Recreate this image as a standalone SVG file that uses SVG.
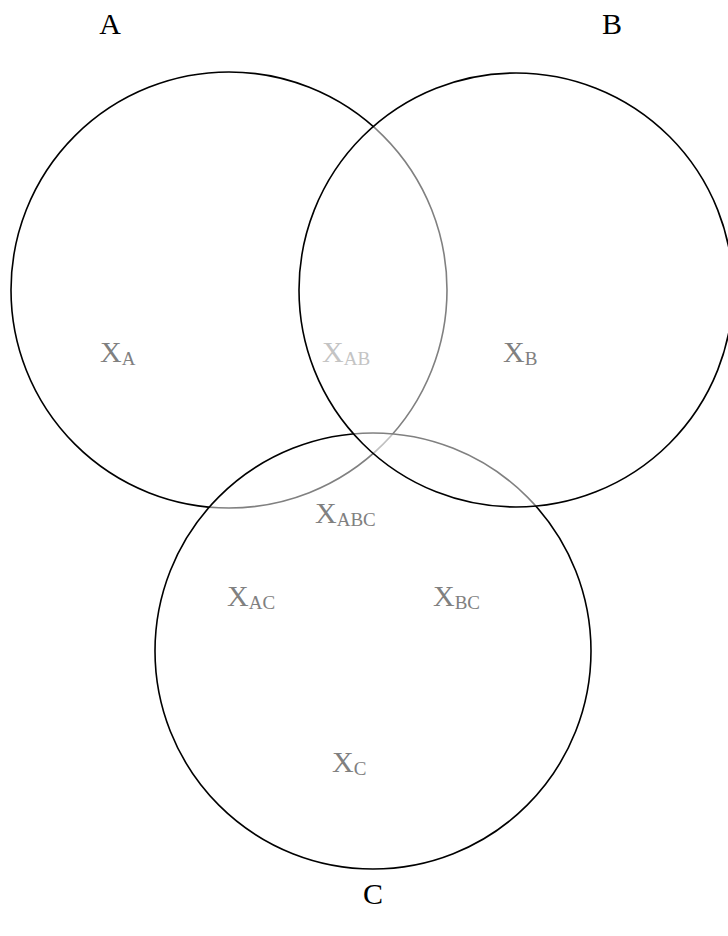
<svg xmlns="http://www.w3.org/2000/svg" width="728" height="936" viewBox="0 0 728 936">
<style>
.set{fill:#ffffff;fill-opacity:0.5;stroke:#000000;stroke-width:1.6}
.lab{font-family:"Liberation Serif","Times New Roman",serif;font-size:30px;fill:#000000}
.reg{font-family:"Liberation Serif","Times New Roman",serif;font-size:30px;fill:#808080}
.sub{font-size:19px}
</style>
<rect width="728" height="936" fill="#ffffff"/>
<g id="set-A"><circle class="set" cx="229" cy="290" r="218"/></g>
<g id="set-C"><circle class="set" cx="373" cy="651" r="218"/></g>
<g id="set-B"><circle class="set" cx="516" cy="290" r="217"/></g>
<g id="labels">
<text class="lab" x="110" y="34" text-anchor="middle">A</text>
<text class="lab" x="612" y="34" text-anchor="middle">B</text>
<text class="lab" x="373" y="904" text-anchor="middle">C</text>
</g>
<g id="regions">
<text id="x-a" class="reg" x="100" y="362">X<tspan class="sub" dy="3">A</tspan></text>
<text id="x-ab" class="reg" x="322" y="362" style="fill:#c4c4c4">X<tspan class="sub" dy="3">AB</tspan></text>
<text id="x-b" class="reg" x="503" y="362">X<tspan class="sub" dy="3">B</tspan></text>
<text id="x-abc" class="reg" x="315" y="523">X<tspan class="sub" dy="3">ABC</tspan></text>
<text id="x-ac" class="reg" x="227" y="606">X<tspan class="sub" dy="3">AC</tspan></text>
<text id="x-bc" class="reg" x="433" y="606">X<tspan class="sub" dy="3">BC</tspan></text>
<text id="x-c" class="reg" x="332" y="772">X<tspan class="sub" dy="3">C</tspan></text>
</g>
</svg>
